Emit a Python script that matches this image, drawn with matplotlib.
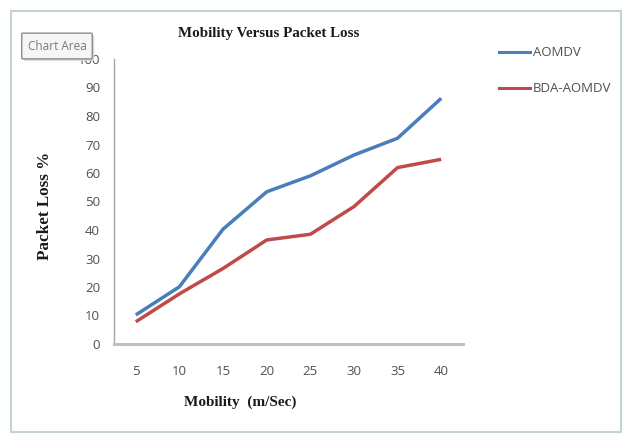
import numpy as np
import matplotlib
matplotlib.use("Agg")
import matplotlib.pyplot as plt
from matplotlib.patches import Rectangle, FancyBboxPatch

# mobility (m/sec) categories and packet loss (%) per protocol
MOBILITY = [5, 10, 15, 20, 25, 30, 35, 40]
AOMDV = [10.2, 20.1, 40.3, 53.4, 59.0, 66.3, 72.2, 86.2]
BDA_AOMDV = [7.8, 17.6, 26.5, 36.5, 38.5, 48.2, 61.9, 64.8]
Y_TICKS = [0, 10, 20, 30, 40, 50, 60, 70, 80, 90, 100]

BLUE = "#4a7ebb"
RED = "#be4b48"
TICK_GRAY = "#505050"
W, H = 627, 434

fig = plt.figure(figsize=(W / 100, H / 100), dpi=100)
fig.patch.set_facecolor("white")

# plot area in pixel terms -> figure fractions
left, right, top, bottom = 114, 463, 59, 344
ax = fig.add_axes([left / W, 1 - bottom / H, (right - left) / W, (bottom - top) / H])

x = np.arange(len(MOBILITY))
ax.plot(x, AOMDV, color=BLUE, lw=2.5, solid_capstyle="butt", label="AOMDV")
ax.plot(x, BDA_AOMDV, color=RED, lw=2.5, solid_capstyle="butt", label="BDA-AOMDV")

ax.set_xlim(-0.5, len(MOBILITY) - 0.5)
ax.set_ylim(0, 100)
ax.set_xticks(x)
ax.set_xticklabels([str(m) for m in MOBILITY])
ax.set_yticks(Y_TICKS)
ax.tick_params(length=0, labelsize=9.5, labelcolor=TICK_GRAY)
ax.tick_params(axis="y", pad=10)
ax.tick_params(axis="x", pad=15)
for lbl in ax.get_xticklabels() + ax.get_yticklabels():
    lbl.set_family("Open Sans")

for s in ["top", "right"]:
    ax.spines[s].set_visible(False)
ax.spines["left"].set_color("#a6a6a6")
ax.spines["left"].set_linewidth(1.0)
ax.spines["bottom"].set_color("#c0c0c0")
ax.spines["bottom"].set_linewidth(2.2)

serif = dict(family="Liberation Serif", weight="bold")
fig.text(269 / W, 1 - 33 / H, "Mobility Versus Packet Loss", ha="center", va="center",
         fontsize=10.8, color="#1a1a1a", **serif)
fig.text(240 / W, 1 - 402 / H, "Mobility  (m/Sec)", ha="center", va="center",
         fontsize=11, color="#1a1a1a", **serif)
fig.text(45 / W, 1 - 206 / H, "Packet Loss %", ha="center", va="center", rotation=90,
         fontsize=12.3, color="#1a1a1a", **serif)

# legend drawn as short line samples beside the labels
for ypx, col, name in [(52, BLUE, "AOMDV"), (88, RED, "BDA-AOMDV")]:
    yf = 1 - ypx / H
    fig.add_artist(plt.Line2D([499 / W, 530 / W], [yf, yf], color=col, lw=2.2))
    fig.text(533 / W, yf, name, ha="left", va="center", fontsize=9.5,
             color=TICK_GRAY, family="Open Sans")

# outer chart border
fig.add_artist(Rectangle((11 / W, 1 - 432 / H), (621 - 11) / W, (432 - 11) / H,
                         transform=fig.transFigure, fill=False, ec="#c5d3d6", lw=1.5))

# "Chart Area" hover tip
fig.add_artist(FancyBboxPatch((25 / W, 1 - 60 / H), 68 / W, 24 / H,
                              boxstyle="round,pad=0.002", transform=fig.transFigure,
                              fc="#d8d8d8", ec="none", zorder=5))
fig.add_artist(FancyBboxPatch((23 / W, 1 - 58 / H), 68 / W, 24 / H,
                              boxstyle="round,pad=0.002", transform=fig.transFigure,
                              fc="#f6f6f6", ec="#8c8c8c", lw=1.0, zorder=6))
fig.text(57 / W, 1 - 46 / H, "Chart Area", ha="center", va="center", fontsize=8.5,
         color="#7a7a7a", family="Open Sans", zorder=7)

fig.savefig("out.png", dpi=100)
